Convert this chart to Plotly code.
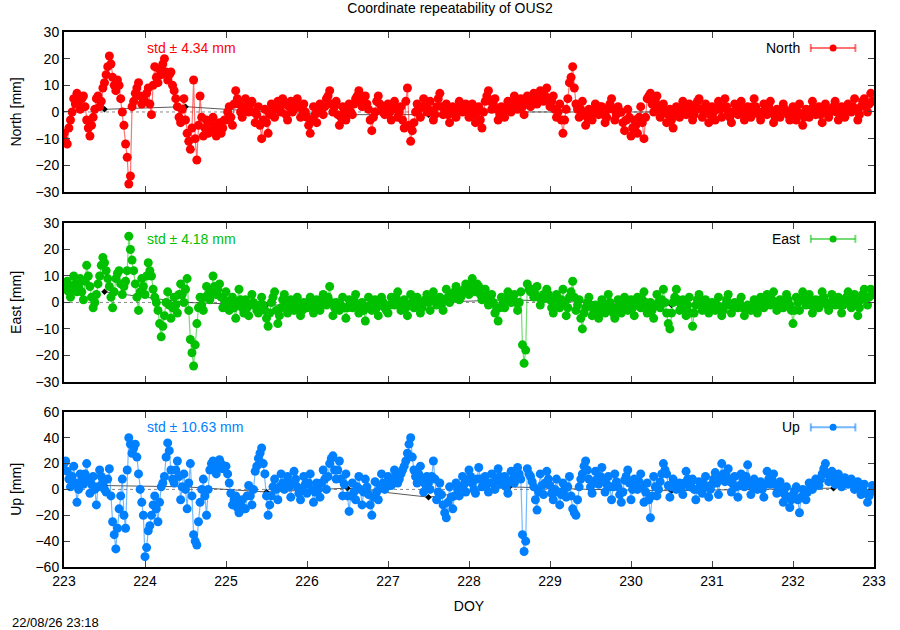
import plotly.graph_objects as go
from plotly.subplots import make_subplots

# epochs are sampled every 0.02 day starting at DOY 223.0
START_DOY = 223.0
STEP = 0.02

# coordinate residuals in mm (one row = one day, 50 epochs)
north_mm = [
    -8, -11, -12, -6, -3, 0, 5, 3, 7, 4, 1, 5, 6, 2, -3, -6, -9, -5, -2, 1, 5, 6, 2, 4, 9, 11, 14, 17, 21, 18, 13, 10, 8, 12, 10, 5, 0, -5, -12, -17, -27, -24, 2, 4, 7, 9, 11, 6, 3, 5,
    4, 7, 9, 3, -1, 10, 17, 13, 11, 16, 14, 18, 20, 15, 12, 14, 15, 10, 8, 5, 2, -2, -4, 1, 5, -3, -8, -11, -14, -6, 12, -10, -18, -5, 6, -2, -9, -6, -3, -8, -7, -4, -2, -6, -9, -5, -4, -8, -6, -3,
    -3, 0, 2, -2, -5, 3, 8, 5, 3, 0, -2, 2, 5, 1, 0, 3, 4, 0, -4, -1, 2, -5, -10, -3, 1, -4, -8, -1, 3, 1, -2, 2, 4, 1, 0, 5, 3, -1, -3, 2, 4, 0, 1, 3, 5, 2, -2, 1, 3, 0,
    -2, -5, -8, -3, 2, -1, -4, 0, 3, 1, -1, 2, 5, 6, 8, 3, 0, 2, 4, -1, -5, -2, 2, 0, -3, 1, 3, 0, -1, 3, 5, 6, 8, 4, 2, 5, 6, 3, 1, -3, -7, -2, 0, 4, 6, 3, 2, 0, -1, 2,
    3, 0, -3, 1, 4, 1, -2, 0, 2, -3, -6, 4, 9, -5, -11, -7, -4, 0, 3, 1, -2, 2, 5, 2, 0, 1, 4, 0, -3, -1, 2, 5, 7, 2, -1, 1, 3, -1, -4, 0, 2, -1, -2, 1, 4, 2, 0, 1, 3, 1,
    -2, 1, 3, -1, -4, 0, 2, -3, -6, 0, 4, 6, 8, 4, 1, 3, 5, 1, -3, -1, 2, 0, -2, 1, 4, 2, 0, 3, 6, 3, 1, 2, 5, 2, -1, 3, 6, 4, 2, 4, 7, 5, 3, 5, 8, 6, 4, 6, 9, 5,
    2, 4, 6, 1, -2, 0, 3, -3, -8, -3, 1, 5, 11, 13, 17, 9, 3, 1, -2, 1, 4, -1, -5, -2, 1, -1, -3, 0, 3, 1, -1, 2, 2, -1, -4, -2, 1, 3, 5, 1, -3, -1, 2, 0, 0, -4, -7, -3, 1, -2,
    -9, -6, -3, -5, -8, -2, 2, -4, -10, -2, 5, 6, 7, 3, 0, 4, 6, 2, -2, 0, 3, 0, -4, -1, 1, -3, -6, -1, 2, 0, -2, 1, 4, 1, -1, 1, 3, 0, -3, -1, 2, 4, 5, 1, -2, 0, 3, 0, -4, -1,
    2, 0, -3, 1, 4, 1, -2, 2, 5, 2, 0, -2, -4, 0, 3, 1, -1, 2, 4, 0, -3, -1, 2, 0, -2, 2, 5, 2, 0, -1, -3, 0, 3, 1, -1, 2, 4, 0, -4, -2, 1, -1, -2, 1, 3, 1, 0, -1, -3, 0,
    2, -1, -3, 0, 3, -1, -5, -2, 1, 0, -2, 1, 4, 1, -1, 0, 2, -1, -4, 0, 3, 1, -2, 0, 1, 2, 4, 0, -3, -1, 2, 0, -2, 1, 3, 1, 0, 2, 5, 1, -3, -1, 2, 4, 5, 2, 0, 3, 7, 4,
]
east_mm = [
    5, 7, 8, 4, 2, 6, 10, 7, 4, 6, 9, 4, 1, 8, 14, 10, 6, 2, -2, 0, 3, 7, 10, 14, 17, 15, 12, 9, 6, 2, -2, 4, 9, 11, 12, 7, 3, 6, 8, 12, 25, 20, 16, 12, 7, 2, -3, 4, 9, 6,
    3, 10, 15, 12, 10, 5, 2, 0, -3, -8, -13, -9, -5, 0, 4, -1, -6, -2, 2, -1, -4, 3, 7, 3, 0, 5, 9, -3, -14, -19, -24, -16, -8, -2, 2, -1, -3, 2, 6, 3, 1, 5, 10, 6, 3, 5, 7, 2, -2, 1,
    4, 0, -3, -1, 2, -2, -6, 0, 5, 1, -2, -4, 1, -2, -5, -1, 3, 0, -1, -3, -4, -1, 2, -1, -3, -6, -9, -4, 0, 2, 4, -3, -8, -5, -2, 1, 3, -1, -4, -2, 1, -1, -3, 0, 2, -2, -5, -3, 0, -2,
    -2, 0, 2, -1, -4, -2, 1, -1, -3, 0, 3, 1, -1, 2, 6, 0, -5, -2, 0, -2, -3, -1, 2, -2, -6, -2, 1, -1, -2, 1, 3, -1, -4, -2, 0, -3, -7, -2, 2, -1, -3, -1, 1, -2, -5, -1, 2, 0, -2, -3,
    -4, -1, 2, 0, -1, 2, 4, 0, -3, -1, 1, -2, -5, -1, 3, 0, -2, 0, 2, -1, -4, -2, 0, 1, 3, 0, -3, 1, 4, 1, -1, 0, 2, -1, -3, 1, 5, 2, 0, 1, 3, 4, 6, 3, 1, 2, 4, 5, 7, 4,
    3, 6, 9, 5, 4, 7, 6, 3, 1, 4, 5, 2, -1, 1, 3, 0, -4, -2, -7, -2, 2, 0, -2, 1, 4, 2, 0, 1, 3, 0, -3, 0, 4, -16, -23, -18, 7, 5, 4, 5, 2, 3, 6, 2, -1, 1, 3, 2, 5, 3,
    1, -2, -4, 0, 3, 0, -2, 1, 5, 0, -5, -2, 2, 4, 8, 2, -3, -1, 1, -6, -10, -4, -2, 0, 2, -1, -5, -3, -1, -4, -6, -2, 1, -1, -4, -1, 3, 0, -3, -4, -6, -2, 1, -2, -4, -1, 2, -1, -3, -1,
    1, -2, -5, -1, 2, 0, -2, 1, 4, 0, -4, -2, 0, -3, -6, -1, 3, 0, -2, 1, 5, 0, -4, -8, -10, -4, 0, 2, 5, 1, -3, -1, 1, -2, -5, -1, 2, -4, -9, -4, -1, 1, 3, 0, -3, -1, 1, -2, -4, -1,
    0, -1, -3, -1, 2, -2, -5, -3, -1, 1, 3, -1, -4, -2, 0, -1, -2, 0, 2, -2, -5, -3, -1, -2, -3, -1, 1, -2, -4, -1, 2, 0, -2, 0, 3, 1, -1, 1, 4, 0, -3, -1, 1, -1, -2, 0, 3, 1, -1, -3,
    -8, -3, 2, 0, -3, 1, 4, 1, -1, 1, 3, -1, -4, -1, 1, -1, -2, 1, 4, 2, 0, -1, -3, 0, 3, 1, -1, 0, 2, -1, -4, -1, 1, 2, 4, 0, -2, 1, 3, 0, -5, -2, 1, 3, 5, 2, -1, 2, 5, 3,
]
up_mm = [
    20, 22, 14, 8, 2, 10, 18, 5, -10, 0, 12, 8, 4, 12, 20, 8, -3, 4, 10, 0, -12, 2, 15, 10, 5, 0, -2, 8, 16, -5, -25, -35, -46, -30, -15, -5, 8, -20, -30, 15, 40, 35, 28, 32, 35, 25, 12, 0, -10, -20,
    -52, -45, -32, -28, -20, -12, -5, -15, -25, -10, 2, 5, 10, 25, 36, 30, 15, 8, 5, 15, 22, 10, -8, 2, 12, 0, -15, 5, 20, -5, -35, -40, -43, -25, -10, 0, 8, -5, -20, 0, 15, 20, 22, 18, 12, 18, 23, 20, 16, 18,
    18, 12, 5, -3, -12, -8, -5, -14, -18, -12, -8, -15, -15, -5, 3, -5, -12, 0, 14, 18, 24, 28, 32, 20, 12, -5, -20, -12, -5, 2, 8, 0, -8, 2, 12, 5, 0, 5, 10, 2, -6, 5, 14, 8, 2, -3, -8, 0, 10, 4,
    -3, 5, 12, 0, -10, -2, 5, 0, -6, 5, 15, 8, 0, 10, 20, 24, 26, 15, 8, 15, 22, 8, -5, 4, 12, -5, -17, -5, 5, -2, -8, 2, 10, 0, -12, -2, 8, 2, -4, -12, -20, -6, 6, -2, -8, 2, 12, 5, 0, 5,
    10, 6, 3, 8, 15, 10, 5, 8, 12, 15, 18, 22, 28, 35, 40, 25, 15, 10, 5, 12, 18, 8, -2, 4, 10, 5, 0, 10, 22, 8, -8, -2, 5, -4, -12, -18, -22, -10, 2, -6, -15, -5, 5, 0, -5, 2, 10, 4, -2, 6,
    15, 10, 5, 0, -3, 8, 17, 8, 2, 5, 10, 4, -2, 5, 12, 5, 0, 8, 16, 10, 4, 6, 10, 2, -3, 6, 14, 8, 5, 10, 17, 12, 8, -35, -48, -40, 16, 12, 10, 6, 2, -8, -16, -2, 12, 3, -4, 5, 14, 8,
    3, -3, -8, 0, 8, -2, -12, -4, 5, 0, -6, 2, 10, -5, -15, -18, -20, -8, 2, 8, 12, 18, 22, 15, 8, 2, -3, 5, 14, 8, 4, 10, 17, 8, -2, 4, 10, 2, -8, 2, 12, 6, 2, -4, -10, -2, 7, 10, 15, 5,
    -8, 0, 8, 3, 0, 6, 12, 2, -10, -2, 5, -8, -22, -5, 10, 2, -5, 0, 6, 12, 20, 15, 12, 3, -6, 2, 8, 4, 0, 2, 5, 0, -4, 5, 14, 8, 2, 5, 8, 0, -8, 0, 6, 2, -3, 4, 10, 2, -6, 0,
    4, 8, 13, 5, -4, 8, 20, 12, 6, 10, 16, 6, -2, 4, 10, 2, -6, 3, 12, 8, 2, 10, 19, 6, -4, 2, 8, 4, 0, 3, 6, 0, -6, 4, 14, 8, 4, 8, 12, 4, -3, 2, 6, -2, -10, -4, 2, -6, -14, -8,
    -4, -1, 2, -8, -18, -6, 0, -4, -8, -2, 5, 2, 0, 4, 8, 5, 3, 8, 12, 16, 20, 12, 6, 10, 14, 8, 4, 8, 12, 6, 2, 5, 9, 6, 4, 6, 8, 4, 0, 3, 6, 1, -4, 0, 4, -3, -10, -5, -2, 3,
]

# daily solutions (black)
daily_doy = [223.5, 224.5, 225.5, 226.5, 227.5, 228.5, 229.5, 230.5, 231.5, 232.5]
daily_north = [1, 2, 0, -1, -1, 0, 0, 0, 0, 0]
daily_east = [4, 0, -1, -1, 0, 1, 0, -1, -1, 0]
daily_up = [3, 2, -2, 1, -6, 2, 0, -1, 0, 1]

names = ["North", "East", "Up"]
std_labels = ["std \u00b1 4.34 mm", "std \u00b1 4.18 mm", "std \u00b1 10.63 mm"]
colors = ["#ff0000", "#00c000", "#0080ff"]
light = ["rgba(255,0,0,0.55)", "rgba(0,192,0,0.55)", "rgba(0,128,255,0.55)"]
y_ranges = [[-30, 30], [-30, 30], [-60, 60]]
y_dticks = [10, 10, 20]

series = [north_mm, east_mm, up_mm]
daily = [daily_north, daily_east, daily_up]

FONT = "Liberation Sans, Arial, sans-serif"

fig = make_subplots(rows=3, cols=1)

for k in range(3):
    row = k + 1
    doy = [START_DOY + STEP * i for i in range(len(series[k]))]
    fig.add_trace(go.Scatter(x=daily_doy, y=daily[k], mode="lines+markers",
                             line=dict(color="#303030", width=0.8),
                             marker=dict(color="black", size=5, symbol="diamond"),
                             showlegend=False), row=row, col=1)
    fig.add_trace(go.Scatter(x=doy, y=series[k], mode="lines+markers", name=names[k],
                             line=dict(color=light[k], width=1.2),
                             marker=dict(color=colors[k], size=9, symbol="circle"),
                             showlegend=False), row=row, col=1)

# panel positions (paper fractions)
domains = [[0.701, 1.0], [0.346, 0.643], [0.0, 0.29]]

for k in range(3):
    ax = "" if k == 0 else str(k + 1)
    xref, yref = "x" + ax, "y" + ax
    fig.update_layout({
        "yaxis" + ax: dict(domain=domains[k], range=y_ranges[k], dtick=y_dticks[k],
                           ticks="inside", ticklen=6, tickcolor="#444", mirror="allticks",
                           showline=True, linecolor="black", linewidth=2,
                           showgrid=False, zeroline=False,
                           title=dict(text=names[k] + " [mm]", standoff=11,
                                      font=dict(size=14, color="black"))),
        "xaxis" + ax: dict(range=[223, 233], dtick=1, ticks="inside", ticklen=6,
                           tickcolor="#444", mirror="allticks", showline=True,
                           linecolor="black", linewidth=2, showgrid=False, zeroline=False,
                           showticklabels=(k == 2)),
    })
    # dotted zero line
    fig.add_shape(type="line", xref=xref + " domain", yref=yref, x0=0, x1=1, y0=0, y1=0,
                  line=dict(color="#888", width=1, dash="dot"), layer="below")
    # std text
    fig.add_annotation(xref=xref + " domain", yref=yref + " domain", x=0.1, y=0.9,
                       xanchor="left", yanchor="middle", showarrow=False,
                       text=std_labels[k], font=dict(size=14, color=colors[k]))
    # key with error-bar sample
    fig.add_annotation(xref=xref + " domain", yref=yref + " domain", x=0.911, y=0.9,
                       xanchor="right", yanchor="middle", showarrow=False,
                       text=names[k], font=dict(size=14, color="black"))
    fig.add_shape(type="line", xref=xref + " domain", yref=yref + " domain",
                  x0=0.922, x1=0.977, y0=0.9, y1=0.9, line=dict(color=light[k], width=2))
    for xc in [0.922, 0.977]:
        fig.add_shape(type="line", xref=xref + " domain", yref=yref + " domain",
                      ysizemode="pixel", yanchor=0.9, x0=xc, x1=xc, y0=-4, y1=4,
                      line=dict(color=light[k], width=2))
    fig.add_shape(type="circle", xref=xref + " domain", yref=yref + " domain",
                  xsizemode="pixel", ysizemode="pixel", xanchor=0.9495, yanchor=0.9,
                  x0=-3.5, x1=3.5, y0=-3.5, y1=3.5,
                  fillcolor=colors[k], line=dict(color=colors[k], width=0))

fig.update_layout(xaxis3=dict(title=dict(text="DOY", standoff=13, font=dict(size=14, color="black"))))

fig.add_annotation(xref="paper", yref="paper", x=-0.0667, y=-0.103, xanchor="left",
                   yanchor="middle", showarrow=False, text="22/08/26 23:18",
                   font=dict(size=13, color="black"))

fig.update_layout(
    width=900, height=630,
    margin=dict(l=64, r=26, t=32, b=63),
    paper_bgcolor="white", plot_bgcolor="white",
    font=dict(family=FONT, size=14, color="black"),
    title=dict(text="Coordinate repeatability of OUS2", x=0.5, xanchor="center",
               y=0.995, yanchor="top", font=dict(size=14, color="black")),
    showlegend=False,
)

# drop the default page margin so the figure sits at the window corner
fig.write_html("out.html", config={"displayModeBar": False},
               post_script="document.body.style.margin='0px';")
